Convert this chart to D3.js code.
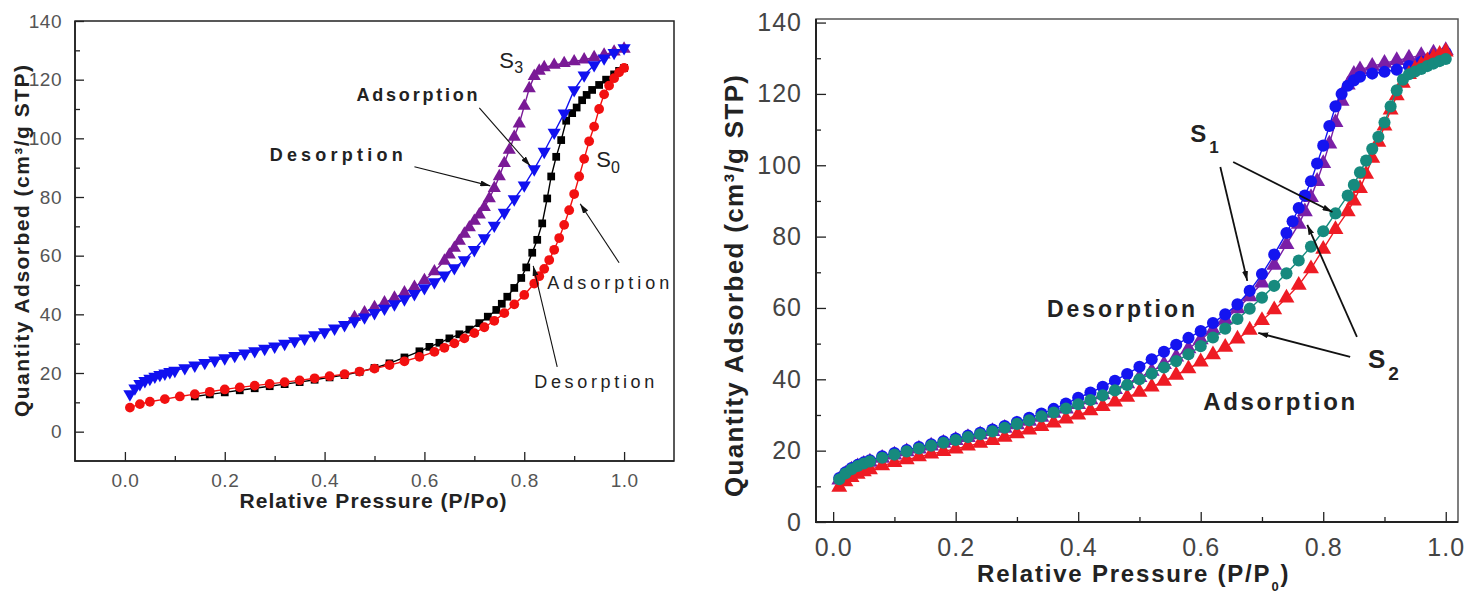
<!DOCTYPE html>
<html>
<head>
<meta charset="utf-8">
<script src="https://cdn.jsdelivr.net/npm/d3@7"></script>
<style>
  body { margin: 0; background: #fff; }
  svg { display: block; }
  text { font-family: "Liberation Sans", Arial, sans-serif; }
</style>
</head>
<body>
<div id="chart"></div>
<script>
// ---- left panel (S0, S3), points as [P/Po, quantity] ----
const leftS0Ads = [[0.01,8.2],[0.03,9.4],[0.05,10.2],[0.08,11.1],[0.11,12.0],[0.14,12.8],[0.17,13.6],[0.20,14.4],[0.23,15.1],[0.26,15.7],[0.29,16.3],[0.32,16.9],[0.35,17.5],[0.38,18.2],[0.41,18.9],[0.44,19.6],[0.47,20.5],[0.50,21.5],[0.53,22.7],[0.56,24.0],[0.59,25.5],[0.62,27.2],[0.64,28.6],[0.66,30.1],[0.68,31.8],[0.70,33.6],[0.72,35.6],[0.74,37.8],[0.76,40.4],[0.78,43.4],[0.80,46.6],[0.82,50.5],[0.83,53.0],[0.84,55.5],[0.85,58.5],[0.86,62.0],[0.87,66.0],[0.88,70.5],[0.89,75.5],[0.90,81.0],[0.91,87.0],[0.92,93.0],[0.93,99.0],[0.94,104.0],[0.95,110.0],[0.96,115.0],[0.97,118.0],[0.98,120.5],[0.99,122.5],[1.00,124.0]];
const leftS0Des = [[1.00,124.0],[0.99,123.0],[0.98,121.8],[0.964,120.0],[0.95,118.2],[0.936,116.5],[0.925,114.8],[0.916,113.0],[0.905,110.5],[0.896,108.6],[0.884,106.0],[0.874,99.4],[0.864,93.7],[0.854,87.0],[0.846,79.5],[0.836,71.0],[0.826,65.4],[0.816,61.0],[0.804,56.0],[0.794,52.4],[0.78,49.0],[0.766,46.0],[0.755,43.6],[0.744,41.5],[0.727,39.2],[0.71,37.0],[0.69,34.8],[0.67,33.2],[0.65,31.8],[0.63,30.3],[0.61,28.9],[0.59,27.4],[0.56,25.3],[0.53,23.3],[0.50,21.7],[0.47,20.4],[0.44,19.3],[0.41,18.5],[0.38,17.7],[0.35,16.9],[0.32,16.2],[0.29,15.5],[0.26,14.8],[0.23,14.1],[0.20,13.4],[0.17,12.7],[0.14,12.0]];
const leftS3Ads = [[0.01,12.8],[0.02,14.8],[0.03,16.3],[0.04,17.3],[0.05,18.1],[0.06,18.8],[0.07,19.4],[0.08,19.9],[0.09,20.4],[0.10,20.8],[0.12,21.7],[0.14,22.6],[0.16,23.5],[0.18,24.3],[0.20,25.1],[0.22,25.9],[0.24,26.7],[0.26,27.5],[0.28,28.3],[0.30,29.1],[0.32,30.0],[0.34,30.9],[0.36,31.8],[0.38,32.9],[0.40,34.0],[0.42,35.2],[0.44,36.4],[0.46,37.7],[0.48,39.0],[0.50,40.5],[0.52,42.0],[0.54,43.5],[0.56,45.2],[0.58,47.0],[0.60,49.0],[0.62,51.0],[0.64,53.3],[0.66,55.8],[0.68,58.5],[0.70,62.0],[0.72,66.0],[0.74,70.3],[0.76,74.7],[0.78,79.3],[0.80,84.0],[0.82,89.5],[0.84,95.5],[0.86,102.0],[0.88,108.5],[0.90,116.5],[0.92,121.5],[0.94,125.0],[0.96,127.3],[0.98,129.2],[1.00,130.8]];
const leftS3Des = [[1.00,130.5],[0.98,129.5],[0.96,128.5],[0.94,127.6],[0.92,126.8],[0.90,126.2],[0.88,125.6],[0.86,125.0],[0.84,124.2],[0.83,123.0],[0.82,121.2],[0.81,117.0],[0.80,111.0],[0.79,105.0],[0.78,100.5],[0.77,96.0],[0.76,91.5],[0.75,87.0],[0.74,83.0],[0.73,79.5],[0.72,76.5],[0.71,74.0],[0.70,71.8],[0.69,69.6],[0.68,67.4],[0.67,65.0],[0.66,62.6],[0.65,60.3],[0.64,58.2],[0.62,54.6],[0.60,51.6],[0.58,49.3],[0.56,47.4],[0.54,45.6],[0.52,44.0],[0.50,42.4],[0.48,40.6],[0.46,39.0]];

// ---- right panel (S1, S2) ----
const rightBlue = [[0.01,12.3],[0.02,13.9],[0.03,15.1],[0.04,16.0],[0.05,16.7],[0.06,17.3],[0.08,18.4],[0.10,19.3],[0.12,20.2],[0.14,21.0],[0.16,21.8],[0.18,22.6],[0.20,23.4],[0.22,24.2],[0.24,25.0],[0.26,25.9],[0.28,26.9],[0.30,28.0],[0.32,29.2],[0.34,30.4],[0.36,31.7],[0.38,33.2],[0.40,34.8],[0.42,36.3],[0.44,37.9],[0.46,39.6],[0.48,41.5],[0.50,43.5],[0.52,45.6],[0.54,47.7],[0.56,49.7],[0.58,51.6],[0.60,53.5],[0.62,55.8],[0.64,58.2],[0.66,61.0],[0.68,64.8],[0.70,69.5],[0.72,75.0],[0.74,81.0],[0.75,84.3],[0.76,88.0],[0.77,91.5],[0.78,95.5],[0.79,100.5],[0.80,105.5],[0.81,111.0],[0.82,116.5],[0.83,120.0],[0.84,122.3],[0.85,123.8],[0.86,124.8],[0.88,125.7],[0.90,126.2],[0.92,126.8],[0.94,127.8],[0.96,129.0],[0.98,130.3],[1.00,131.5]];
const rightPurple = [[0.01,11.8],[0.02,13.4],[0.03,14.6],[0.04,15.5],[0.05,16.2],[0.06,16.8],[0.08,17.9],[0.10,18.8],[0.12,19.7],[0.14,20.5],[0.16,21.3],[0.18,22.1],[0.20,22.9],[0.22,23.7],[0.24,24.5],[0.26,25.4],[0.28,26.3],[0.30,27.3],[0.32,28.3],[0.34,29.4],[0.36,30.5],[0.38,31.7],[0.40,33.0],[0.42,34.3],[0.44,35.7],[0.46,37.2],[0.48,38.8],[0.50,40.5],[0.52,42.3],[0.54,44.2],[0.56,46.3],[0.58,48.6],[0.60,51.1],[0.62,53.8],[0.64,56.7],[0.66,59.8],[0.68,63.2],[0.70,67.0],[0.72,72.0],[0.74,77.8],[0.76,83.5],[0.77,87.0],[0.78,91.0],[0.79,95.5],[0.80,100.5],[0.81,106.0],[0.82,112.0],[0.83,118.0],[0.84,122.5],[0.85,125.5],[0.86,126.8],[0.88,127.8],[0.90,128.6],[0.92,129.4],[0.94,130.1],[0.96,130.8],[0.98,131.5],[1.00,132.2]];
const rightTeal = [[0.01,12.0],[0.02,13.6],[0.03,14.8],[0.04,15.7],[0.05,16.4],[0.06,17.0],[0.08,18.0],[0.10,18.9],[0.12,19.8],[0.14,20.6],[0.16,21.4],[0.18,22.2],[0.20,23.0],[0.22,23.8],[0.24,24.6],[0.26,25.4],[0.28,26.4],[0.30,27.5],[0.32,28.5],[0.34,29.6],[0.36,30.7],[0.38,31.8],[0.40,33.0],[0.42,34.2],[0.44,35.5],[0.46,36.9],[0.48,38.4],[0.50,40.0],[0.52,41.6],[0.54,43.3],[0.56,45.1],[0.58,47.0],[0.60,49.3],[0.62,51.7],[0.64,54.2],[0.66,56.9],[0.68,59.8],[0.70,62.9],[0.72,66.2],[0.74,69.7],[0.76,73.3],[0.78,77.2],[0.80,81.5],[0.82,86.5],[0.84,91.5],[0.85,94.5],[0.86,98.0],[0.87,101.3],[0.88,104.6],[0.89,108.0],[0.90,112.0],[0.91,116.5],[0.92,121.0],[0.93,124.0],[0.94,125.5],[0.95,126.3],[0.96,127.0],[0.97,127.8],[0.98,128.5],[0.99,129.2],[1.00,129.8]];
const rightRed = [[0.01,9.8],[0.02,11.3],[0.03,12.5],[0.04,13.4],[0.05,14.1],[0.06,14.7],[0.08,15.8],[0.10,16.7],[0.12,17.5],[0.14,18.3],[0.16,19.1],[0.18,19.8],[0.20,20.5],[0.22,21.3],[0.24,22.1],[0.26,22.9],[0.28,23.8],[0.30,24.8],[0.32,25.8],[0.34,26.8],[0.36,27.8],[0.38,28.9],[0.40,30.0],[0.42,31.2],[0.44,32.4],[0.46,33.7],[0.48,35.0],[0.50,36.4],[0.52,37.9],[0.54,39.5],[0.56,41.2],[0.58,43.0],[0.60,44.9],[0.62,46.9],[0.64,49.0],[0.66,51.3],[0.68,53.8],[0.70,56.5],[0.72,59.5],[0.74,62.8],[0.76,66.4],[0.78,71.0],[0.80,76.5],[0.82,82.0],[0.84,87.0],[0.85,90.0],[0.86,93.5],[0.87,97.5],[0.88,102.0],[0.89,106.5],[0.90,111.0],[0.91,115.5],[0.92,119.5],[0.93,123.0],[0.94,125.5],[0.95,127.0],[0.96,128.2],[0.97,129.3],[0.98,130.3],[0.99,131.1],[1.00,131.8]];

// ticks
const xMajor = [0, 0.2, 0.4, 0.6, 0.8, 1.0];
const xMinor = [0.1, 0.3, 0.5, 0.7, 0.9];
const yMajor = [0, 20, 40, 60, 80, 100, 120, 140];
const yMinor = [10, 30, 50, 70, 90, 110, 130];

// annotations in data units: [p, v]
const leftArrows = [[[0.71,110.4],[0.812,90.6]], [[0.58,90.3],[0.732,83.8]], [[0.99,57.6],[0.912,77.7]], [[0.866,22.1],[0.818,56.5]]];
const leftLabels = [
  {t:"Adsorption", at:[0.464,112.7], len:121, size:18, bold:true},
  {t:"Desorption", at:[0.29,92.3], len:133, size:18, bold:true},
  {t:"Adsorption", at:[0.846,48.7], len:122, size:18, bold:false},
  {t:"Desorption", at:[0.82,15.0], len:120, size:18, bold:false}
];
const leftSubs = [{s:"S", sub:"3", at:[0.75,124], subAt:[0.78,122.3]}, {s:"S", sub:"0", at:[0.944,90.3], subAt:[0.974,88.2]}];
const rightArrows = [[[0.632,99.5],[0.676,67.6]], [[0.653,100.9],[0.815,86.9]], [[0.855,51.9],[0.774,83.3]], [[0.844,46.3],[0.694,53.0]]];
const rightLabels = [
  {t:"Desorption", at:[0.349,57.5], len:148, size:23, bold:true},
  {t:"Adsorption", at:[0.604,31.4], len:152, size:24, bold:true}
];
const rightSubs = [{s:"S", sub:"1", at:[0.583,106.5], subAt:[0.614,103.4], size:24, subSize:17}, {s:"S", sub:"2", at:[0.873,43.2], subAt:[0.906,39.8], size:26, subSize:19}];

const W = 1482, H = 595;
const svg = d3.select("#chart").append("svg").attr("width", W).attr("height", H);

svg.append("defs").append("marker")
    .attr("id", "arr").attr("viewBox", "0 0 10 6").attr("refX", 10).attr("refY", 3)
    .attr("markerWidth", 10).attr("markerHeight", 6).attr("markerUnits", "userSpaceOnUse")
    .attr("orient", "auto")
  .append("path").attr("d", "M0,0L10,3L0,6Z").attr("fill", "#111");

function drawPanel(p) {
    const x = d3.scaleLinear().domain(p.xDom).range(p.xRange);
    const y = d3.scaleLinear().domain(p.yDom).range(p.yRange);
    const g = svg.append("g");

    // curves
    for (const s of p.series) {
        g.append("path").datum(s.data)
            .attr("d", d3.line().x(d => x(d[0])).y(d => y(d[1])))
            .attr("fill", "none").attr("stroke", s.color).attr("stroke-width", 1.4);
        g.append("g").selectAll("path").data(s.data).join("path")
            .attr("transform", d => "translate(" + x(d[0]) + "," + y(d[1]) + ")" + (s.down ? " rotate(180)" : ""))
            .attr("d", d3.symbol().type(s.shape).size(s.size))
            .attr("fill", s.color);
    }

    // frame
    g.append("rect")
        .attr("x", p.xRange[0]).attr("y", p.yRange[1])
        .attr("width", p.xRange[1] - p.xRange[0]).attr("height", p.yRange[0] - p.yRange[1])
        .attr("fill", "none").attr("stroke", p.frameColor).attr("stroke-width", 1.5);
    g.append("path")
        .attr("d", "M" + p.xRange[0] + "," + p.yRange[1] + "V" + p.yRange[0] + "H" + p.xRange[1])
        .attr("fill", "none").attr("stroke", "#222").attr("stroke-width", p.axisW);

    const styleAxis = a => {
        a.select(".domain").remove();
        a.attr("font-family", "'Liberation Sans', Arial, sans-serif")
         .attr("font-size", p.tickFont).attr("fill", p.tickColor);
        a.selectAll("text").attr("fill", p.tickColor).attr("letter-spacing", p.tickSpacing);
        a.selectAll("line").attr("stroke", "#222").attr("stroke-width", 1.3);
    };

    g.append("g").attr("transform", "translate(0," + p.yRange[0] + ")")
        .call(d3.axisBottom(x).tickValues(xMajor).tickFormat(d3.format(".1f"))
            .tickSize(-p.major).tickPadding(p.xPad)).call(styleAxis);
    g.append("g").attr("transform", "translate(0," + p.yRange[0] + ")")
        .call(d3.axisBottom(x).tickValues(xMinor).tickFormat("").tickSize(-p.minor)).call(styleAxis);
    g.append("g").attr("transform", "translate(" + p.xRange[0] + ",0)")
        .call(d3.axisLeft(y).tickValues(yMajor).tickFormat(d3.format("d"))
            .tickSize(-p.major).tickPadding(p.yPad)).call(styleAxis);
    g.append("g").attr("transform", "translate(" + p.xRange[0] + ",0)")
        .call(d3.axisLeft(y).tickValues(yMinor).tickFormat("").tickSize(-p.minor)).call(styleAxis);

    // annotations
    for (const a of p.arrows) {
        g.append("line")
            .attr("x1", x(a[0][0])).attr("y1", y(a[0][1]))
            .attr("x2", x(a[1][0])).attr("y2", y(a[1][1]))
            .attr("stroke", "#111").attr("stroke-width", p.arrowW).attr("marker-end", "url(#arr)");
    }
    for (const l of p.labels) {
        g.append("text").attr("x", x(l.at[0])).attr("y", y(l.at[1]))
            .attr("font-size", l.size).attr("font-weight", l.bold ? "bold" : "normal")
            .attr("fill", "#222").attr("textLength", l.len).attr("lengthAdjust", "spacing")
            .text(l.t);
    }
    for (const s of p.subs) {
        g.append("text").attr("x", x(s.at[0])).attr("y", y(s.at[1]))
            .attr("font-size", s.size || p.subFont[0]).attr("font-weight", p.subBold ? "bold" : "normal")
            .attr("fill", "#222").text(s.s);
        g.append("text").attr("x", x(s.subAt[0])).attr("y", y(s.subAt[1]))
            .attr("font-size", s.subSize || p.subFont[1]).attr("font-weight", p.subBold ? "bold" : "normal")
            .attr("fill", "#222").text(s.sub);
    }
}

drawPanel({
    xDom: [-0.1, 1.1], xRange: [75, 674],
    yDom: [-10, 140], yRange: [461, 21],
    frameColor: "#222", axisW: 1.6,
    tickFont: 19, tickColor: "#555", tickSpacing: 0.5, xPad: 13, yPad: 13,
    major: 9, minor: 5, arrowW: 1.1,
    series: [
        {data: leftS0Des, color: "#000000", shape: d3.symbolSquare, size: 60},
        {data: leftS0Ads, color: "#f21010", shape: d3.symbolCircle, size: 75},
        {data: leftS3Des, color: "#7a1a96", shape: d3.symbolTriangle, size: 75},
        {data: leftS3Ads, color: "#1010f0", shape: d3.symbolTriangle, size: 75, down: true}
    ],
    arrows: leftArrows, labels: leftLabels, subs: leftSubs, subFont: [22, 16], subBold: false
});

drawPanel({
    xDom: [-0.028, 1.02], xRange: [816, 1458],
    yDom: [0, 141], yRange: [522, 19],
    frameColor: "#555", axisW: 2,
    tickFont: 25, tickColor: "#444", tickSpacing: 1, xPad: 16, yPad: 14,
    major: 10, minor: 5, arrowW: 1.8,
    series: [
        {data: rightPurple, color: "#7a1fa6", shape: d3.symbolTriangle, size: 110},
        {data: rightBlue, color: "#1414f0", shape: d3.symbolCircle, size: 115},
        {data: rightRed, color: "#ee1b24", shape: d3.symbolTriangle, size: 110},
        {data: rightTeal, color: "#168a7e", shape: d3.symbolCircle, size: 115}
    ],
    arrows: rightArrows, labels: rightLabels, subs: rightSubs, subFont: [22, 16], subBold: true
});

// axis titles
svg.append("text").attr("transform", "translate(29,241) rotate(-90)")
    .attr("text-anchor", "middle").attr("font-size", 21).attr("font-weight", "bold").attr("fill", "#222")
    .attr("textLength", 352).attr("lengthAdjust", "spacing")
    .text("Quantity Adsorbed (cm³/g STP)");
svg.append("text").attr("x", 373).attr("y", 508)
    .attr("text-anchor", "middle").attr("font-size", 21).attr("font-weight", "bold").attr("fill", "#222")
    .attr("textLength", 267).attr("lengthAdjust", "spacing")
    .text("Relative Pressure (P/Po)");
svg.append("text").attr("transform", "translate(743,286) rotate(-90)")
    .attr("text-anchor", "middle").attr("font-size", 26).attr("font-weight", "bold").attr("fill", "#222")
    .attr("textLength", 422).attr("lengthAdjust", "spacing")
    .text("Quantity Adsorbed (cm³/g STP)");
const rx = svg.append("text").attr("x", 977).attr("y", 582)
    .attr("font-size", 24).attr("font-weight", "bold").attr("fill", "#222").attr("letter-spacing", 1.8);
rx.append("tspan").text("Relative Pressure (P/P");
rx.append("tspan").attr("font-size", 13).attr("dy", 9).text("0");
rx.append("tspan").attr("dy", -9).text(")");
</script>
</body>
</html>
